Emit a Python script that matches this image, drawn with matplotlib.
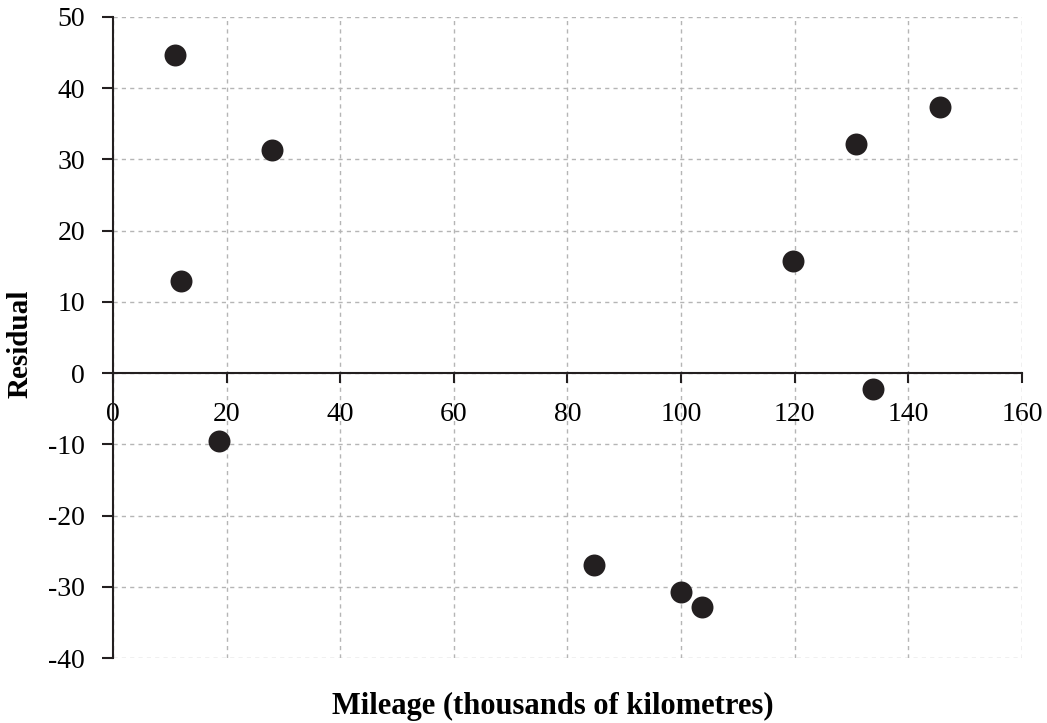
import matplotlib.pyplot as plt

# ---------------- Data ----------------
mileage = [11, 12, 18.7, 28, 84.7, 100, 103.7, 119.7, 130.8, 133.8, 145.6]
residual = [44.6, 13.0, -9.5, 31.3, -26.9, -30.8, -32.8, 15.7, 32.2, -2.2, 37.4]
x_ticks = [0, 20, 40, 60, 80, 100, 120, 140, 160]
y_ticks = [-40, -30, -20, -10, 0, 10, 20, 30, 40, 50]

plt.rcParams['font.family'] = ['Liberation Serif', 'DejaVu Serif']
plt.rcParams['axes.unicode_minus'] = False

fig = plt.figure(figsize=(10.47, 7.23), dpi=100)
ax = fig.add_axes([0.1079, 0.0899, 0.8682, 0.8866])

ax.scatter(mileage, residual, s=250, color='#231f20', zorder=3, linewidths=0)

ax.set_xlim(0, 160)
ax.set_ylim(-40, 50)
ax.set_xticks(x_ticks)
ax.set_yticks(y_ticks)

ax.grid(True, color='#b5b5b5', linestyle=(0, (3, 3)), linewidth=1)

# spines: left at x=0, bottom through y=0
ax.spines['top'].set_visible(False)
ax.spines['right'].set_visible(False)
ax.spines['bottom'].set_position(('data', 0))
for side in ['left', 'bottom']:
    ax.spines[side].set_linewidth(1.5)
    ax.spines[side].set_color('#231f20')

ax.tick_params(axis='y', direction='out', length=8, width=1.5, pad=12,
               labelsize=20, color='#231f20')
ax.tick_params(axis='x', direction='out', length=7, width=1.5, pad=14,
               labelsize=20, color='#231f20')

fig.text(0.019, 0.524, 'Residual', ha='center', va='center', rotation=90,
         fontsize=21, fontweight='bold')
fig.text(0.528, 0.023, 'Mileage (thousands of kilometres)', ha='center', va='center',
         fontsize=22, fontweight='bold')

plt.savefig('out.png', dpi=100)
